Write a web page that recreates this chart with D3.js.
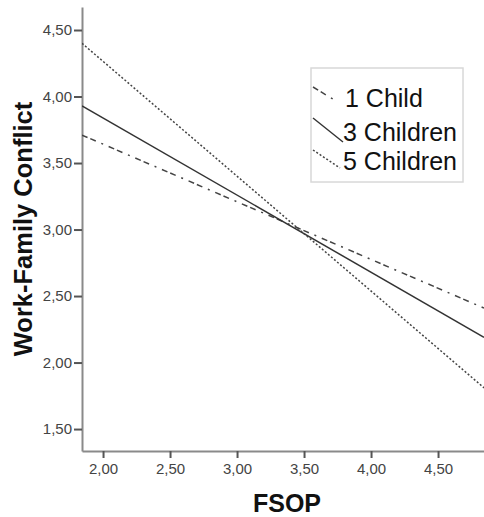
<!DOCTYPE html>
<html>
<head>
<meta charset="utf-8">
<script src="https://cdn.jsdelivr.net/npm/d3@7"></script>
<style>
  html, body { margin: 0; padding: 0; background: #fff; }
  svg { display: block; font-family: "Liberation Sans", Arial, sans-serif; }
</style>
</head>
<body>
<svg id="chart" width="484" height="517"></svg>
<script>
// data: predicted WFC at both ends of the FSOP range
var fsop = [1.843, 4.843];
var oneChild = [3.71, 2.41];
var threeChildren = [3.93, 2.19];
var fiveChildren = [4.40, 1.81];
var seriesNames = ["1 Child", "3 Children", "5 Children"];
var xTicks = [2.0, 2.5, 3.0, 3.5, 4.0, 4.5];
var yTicks = [1.5, 2.0, 2.5, 3.0, 3.5, 4.0, 4.5];

(function () {
  var svg = d3.select("#chart");
  var mLeft = 82, mRight = 484, mTop = 7, mBottom = 451;

  var locale = d3.formatLocale({decimal: ",", thousands: ".", grouping: [3], currency: ["", ""]});
  var fmt = locale.format(".2f");

  var x = d3.scaleLinear().domain([1.843, 4.843]).range([mLeft, mRight]);
  var y = d3.scaleLinear().domain([1.335, 4.673]).range([mBottom, mTop]);

  svg.append("defs").append("clipPath").attr("id", "plotclip")
    .append("rect").attr("x", mLeft).attr("y", mTop)
    .attr("width", mRight - mLeft).attr("height", mBottom - mTop);

  // axes
  var xAxis = svg.append("g")
    .attr("transform", "translate(0," + mBottom + ")")
    .call(d3.axisBottom(x).tickValues(xTicks).tickFormat(fmt).tickSize(7).tickSizeOuter(0).tickPadding(5));
  var yAxis = svg.append("g")
    .attr("transform", "translate(" + mLeft + ",0)")
    .call(d3.axisLeft(y).tickValues(yTicks).tickFormat(fmt).tickSize(8).tickSizeOuter(0).tickPadding(2));

  [xAxis, yAxis].forEach(function (a) {
    a.attr("font-family", null);
    a.select(".domain").attr("stroke", "#8a8a8a").attr("stroke-width", 2);
    a.selectAll(".tick line").attr("stroke", "#555").attr("stroke-width", 2);
    a.selectAll(".tick text").attr("fill", "#444").style("font-size", "15px");
  });

  // lines
  var series = [
    {name: seriesNames[0], values: oneChild, dash: "6,3,6,6,2,6", color: "#444"},
    {name: seriesNames[1], values: threeChildren, dash: null, color: "#333"},
    {name: seriesNames[2], values: fiveChildren, dash: "2,2", color: "#444"}
  ];

  var line = d3.line()
    .x(function (d) { return x(d[0]); })
    .y(function (d) { return y(d[1]); });

  var plot = svg.append("g").attr("clip-path", "url(#plotclip)");
  series.forEach(function (s) {
    var pts = fsop.map(function (f, i) { return [f, s.values[i]]; });
    plot.append("path")
      .attr("d", line(pts))
      .attr("fill", "none")
      .attr("stroke", s.color)
      .attr("stroke-width", 1.5)
      .attr("stroke-dasharray", s.dash);
  });

  // axis titles
  svg.append("text")
    .attr("x", 287).attr("y", 512)
    .attr("text-anchor", "middle")
    .style("font-size", "25px").style("font-weight", "bold")
    .attr("fill", "#111")
    .text("FSOP");

  svg.append("text")
    .attr("transform", "translate(32,229) rotate(-90)")
    .attr("text-anchor", "middle")
    .style("font-size", "25.5px").style("font-weight", "bold")
    .attr("fill", "#111")
    .text("Work-Family Conflict");

  // legend
  var legend = svg.append("g");
  legend.append("rect")
    .attr("x", 311).attr("y", 68).attr("width", 152).attr("height", 114)
    .attr("fill", "#fff").attr("stroke", "#d8d8d8").attr("stroke-width", 1.5);

  var legendRows = [
    {y1: 87, y2: 101, x2: 336, ty: 98},
    {y1: 118, y2: 142, x2: 343, ty: 132},
    {y1: 150, y2: 168, x2: 340, ty: 161}
  ];
  series.forEach(function (s, i) {
    var r = legendRows[i];
    legend.append("line")
      .attr("x1", 313).attr("y1", r.y1).attr("x2", r.x2).attr("y2", r.y2)
      .attr("stroke", s.color).attr("stroke-width", 1.5)
      .attr("stroke-dasharray", s.dash);
    legend.append("text")
      .attr("x", i === 0 ? 345 : 343).attr("y", r.ty)
      .attr("dy", "0.36em")
      .style("font-size", "25px")
      .attr("fill", "#111")
      .text(s.name);
  });
})();
</script>
</body>
</html>
